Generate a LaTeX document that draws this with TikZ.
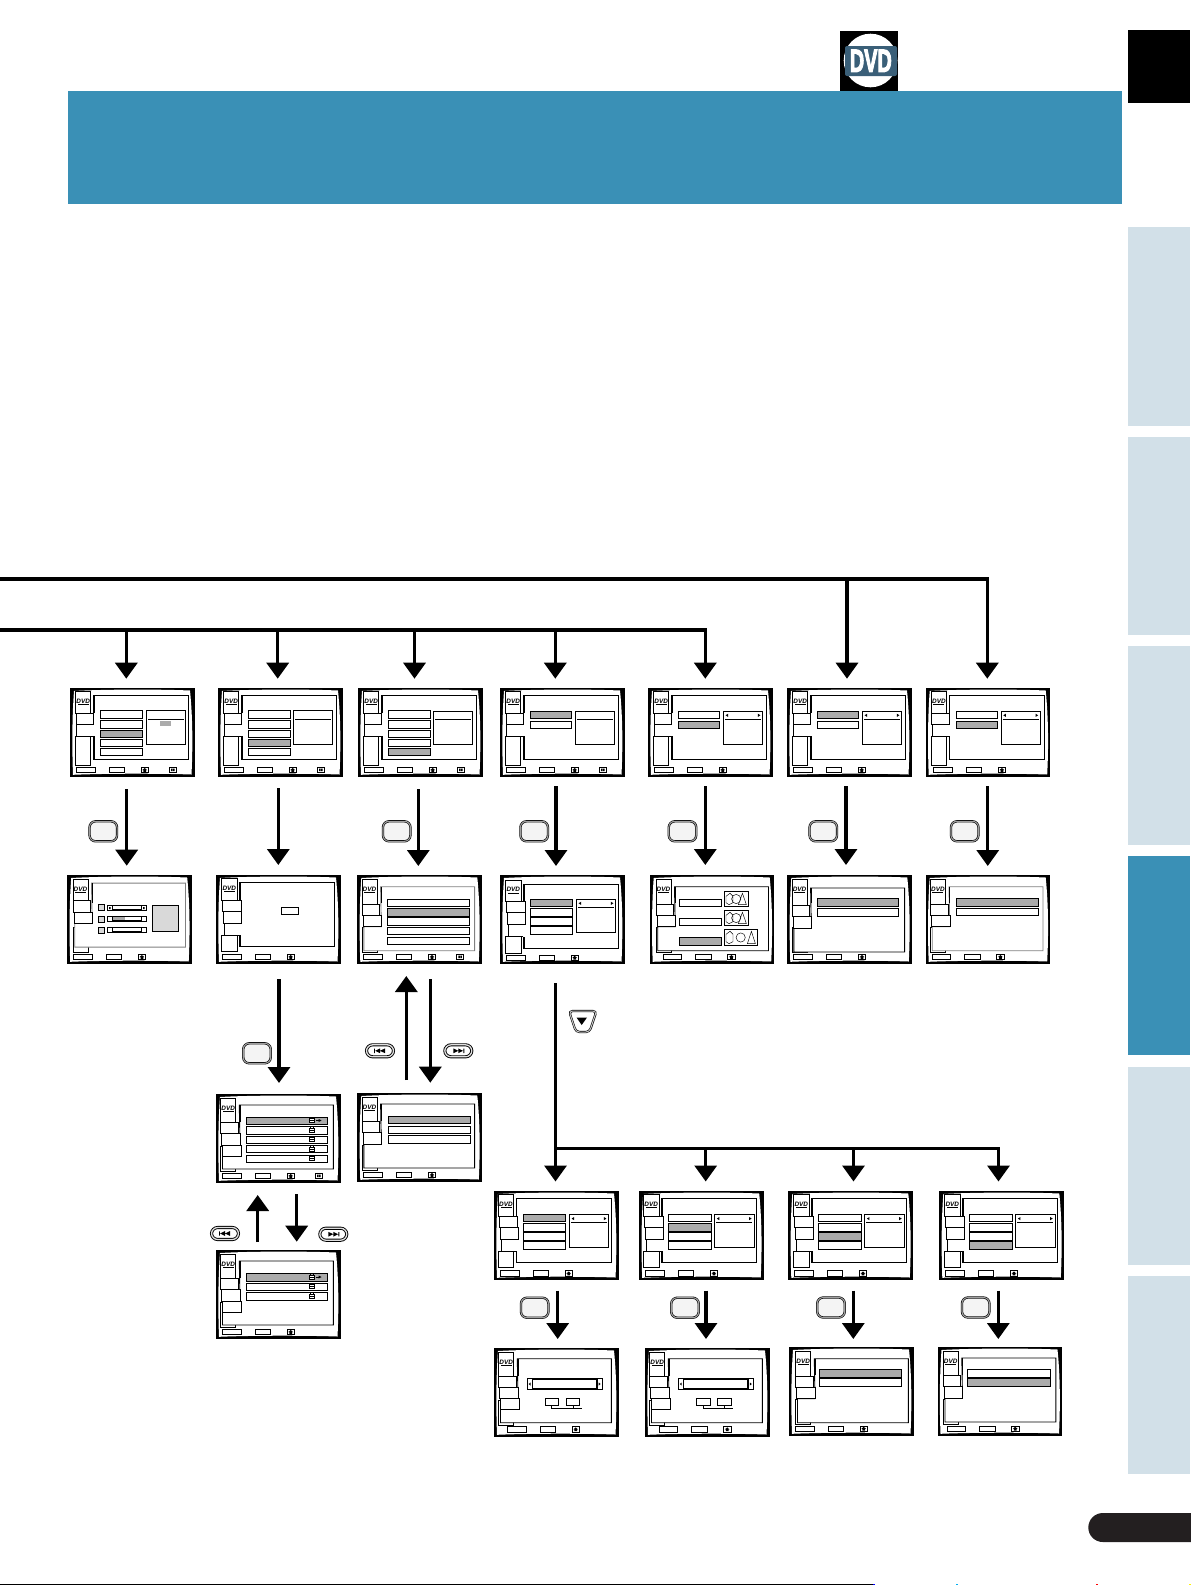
\documentclass[tikz,border=0pt]{standalone}
\usepackage{fontspec}
\setmainfont{Liberation Sans}
\newfontfamily\dvdheavy[BoldFeatures={FakeBold=4}]{Liberation Sans}
\usetikzlibrary{arrows.meta}
\definecolor{hdrblue}{HTML}{3A90B6}
\definecolor{tablight}{HTML}{D2E0E8}
\definecolor{gry}{HTML}{ABABAB}
\definecolor{btnfill}{HTML}{F4F4F4}
\definecolor{logoblue}{HTML}{3A5F78}
\definecolor{pillblack}{HTML}{231F20}
\tikzset{
  screenbox/.style={rectangle,fill=black,inner sep=0pt,outer sep=0pt,minimum width=124.5pt,minimum height=89pt,anchor=north west},
  sl/.style={draw=black,line width=.8pt},
  arr/.style={line width=3.4pt,draw=black,-{Triangle[width=22pt,length=16pt]}},
  gbutton/.style={rectangle,draw=black,line width=.6pt,double=gray!75,double distance=1.1pt,fill=btnfill,rounded corners=6pt,minimum width=27.5pt,minimum height=20pt,inner sep=0pt},
  tbutton/.style={rectangle,draw=black,line width=.9pt,double=gray!25,double distance=1.3pt,fill=white,rounded corners=6.2pt,minimum width=27pt,minimum height=12pt,inner sep=0pt},
  logotext/.style={font=\fontsize{6.4}{6.4}\selectfont\bfseries\itshape,inner sep=0pt,text=black}
}
\newcommand\dvRec[4]{\draw[sl,fill=white] (#1,#2) rectangle (#3,#4);}
% screen: name, x, y, body
\newcommand\dvScr[4]{%
  \def\dvName{#1}%
  \node[screenbox] (#1) at (#2,#3) {};
  \begin{scope}[shift={(#1.north west)}]
    \fill[white] (4,3) .. controls (35,1.2) and (90,1.2) .. (120,2.5)
       .. controls (122.8,30) and (122.8,60) .. (121.5,86.5)
       .. controls (90,85.4) and (35,85.4) .. (3,86.8)
       .. controls (2,60) and (2,30) .. (4,3) -- cycle;
    #4
  \end{scope}}
\newcommand\dvLogo[2]{%
  \node[logotext] (\dvName logo) at (#1,#2) {DVD};
  \fill[black] (#1-5.5,#2+2.8) rectangle (#1+5.5,#2+3.7);}
% type A: two tabs with open notch
\newcommand\LA{%
  \draw[sl] (23.3,7) rectangle (118.7,71);
  \draw[line width=1.5pt] (24,7)--(24,25) (24,48)--(24,71);
  \dvRec{5.7}{48}{20.7}{77}
  \fill[white] (6.3,36) rectangle (25,48);
  \draw[sl] (23.3,48)--(6.3,48)--(6.3,36);
  \dvRec{5.7}{3.3}{20.7}{25}
  \dvRec{6}{25}{23.3}{36}
  \dvLogo{13.2}{13}}
% type B: closed tab, closed tab, open notch
\newcommand\LB[2]{\begin{scope}[shift={(#1,#2)}]
  \draw[sl] (22,7.3) rectangle (117.3,71.3);
  \draw[line width=1.5pt] (22.6,7.3)--(22.6,36) (22.6,60)--(22.6,71.3);
  \dvRec{4.3}{60}{19.7}{76.5}
  \fill[white] (7.3,48) rectangle (24,60);
  \draw[sl] (22,60)--(7.3,60)--(7.3,48);
  \dvRec{4.3}{3.3}{19.7}{25}
  \dvRec{5.3}{25}{23.7}{36}
  \dvRec{6.3}{36}{24.3}{48}
  \dvLogo{12}{13}
  \end{scope}}
% type C: L-shaped panel
\newcommand\LC[3]{\begin{scope}[shift={(#1,0)}]
  \dvRec{4.7}{52}{19.7}{77.7}
  \draw[draw=#3,line width=.9pt,fill=white] (23.3,11.7+#2)--(117.3,11.7+#2)--(117.3,75.7+#2)--(6.5,75.7+#2)--(6.5,51.7+#2)--(24,51.7+#2)--cycle;
  \draw[line width=1.4pt] (24,11.7+#2)--(24,28);
  \dvRec{4.7}{4}{19.7}{29.3+#2}
  \dvRec{4.7}{29.3+#2}{22.3}{40.5+#2}
  \dvRec{5.7}{40.5+#2}{24.3}{51.7+#2}
  \dvLogo{12.2}{14}
  \end{scope}}
\newcommand\dvIcon[2]{\draw[sl,fill=white] (#1,#2) rectangle (#1+7.4,#2+5.4);
  \fill[black] (#1+1.4,#2+2.8)--(#1+3.7,#2+.8)--(#1+6,#2+2.8)--(#1+5.1,#2+2.8)--(#1+5.1,#2+4.6)--(#1+2.3,#2+4.6)--(#1+2.3,#2+2.8)--cycle;}
\newcommand\dvBtn[2]{\begin{scope}[shift={(#1,#2)}]
  \dvRec{6.5}{79.2}{25}{84.6}
  \dvRec{39}{79.2}{54.4}{84.6}
  \dvIcon{71}{79.2}
  \end{scope}}
\newcommand\dvFour[2]{\draw[sl,fill=white] (99+#1,79.2+#2) rectangle (106.4+#1,84.6+#2);
  \fill[black] (101+#1,80.7+#2) rectangle (102.6+#1,83.1+#2) (103+#1,80.7+#2) rectangle (104.6+#1,83.1+#2);}
\newcommand\dvRows[4]{\foreach \ya/\yb [count=\ii] in {#4}{%
  \ifnum\ii=#3\relax\draw[sl,fill=gry] (#1,\ya) rectangle (#2,\yb);%
  \else\draw[sl,fill=white] (#1,\ya) rectangle (#2,\yb);\fi}}
\newcommand\dvSide[6]{%
  \dvRec{#1}{#2}{#3}{#4}
  \draw[sl] (#1+1.7,#5)--(#3-1.7,#5);
  \ifnum#6=1\relax
   \fill[black] (#1+2.3,#2+4.3)--(#1+4.8,#2+2.7)--(#1+4.8,#2+5.9)--cycle
     (#3-2.3,#2+4.3)--(#3-4.8,#2+2.7)--(#3-4.8,#2+5.9)--cycle;
  \fi}
\newcommand\rA[1]{\dvRows{30}{72.7}{#1}{22.7/30.3,32.7/40.3,42/49.3,51/58.3,60/67.3}}
\newcommand\rT[1]{\dvRows{30.3}{71.7}{#1}{23/30.3,33/40.3}}
\newcommand\panW[3]{\begin{scope}[shift={(#1,#2)}]
  \dvRows{29.3}{71.7}{#3}{23.3/30.7,32.7/40.3,41.7/49.3,50.7/58.3}
  \dvSide{75.3}{23.3}{114.7}{56.7}{31.3}{1}
  \draw[line width=1.4pt] (75.3,56.7)--(114.7,56.7);
  \end{scope}}
\newcommand\dvLock[2]{\draw[line width=.6pt,fill=white] (#1-2.6,#2-.8) rectangle (#1+2.6,#2+3);
  \draw[line width=.6pt] (#1-1.3,#2-.8)--(#1-1.3,#2-2.4)--(#1+1.3,#2-2.4)--(#1+1.3,#2-.8);
  \fill[black] (#1-2.6,#2+.6) rectangle (#1+2.6,#2+1.4);}
\newcommand\dvMark[2]{\draw[line width=.8pt] (#1,#2)--(#1+4,#2);
  \fill[black] (#1+3.2,#2-1.5)--(#1+6,#2)--(#1+3.2,#2+1.5)--cycle;}
\newcommand\dvSlid[1]{%
  \dvRec{40}{#1}{79.3}{#1+5.4}
  \draw[line width=1pt,fill=white] (45,#1+.3) rectangle (74.3,#1+4.6);}
\newcommand\dvBig[1]{%
  \dvRec{#1}{30.7}{#1+74.6}{41.3}
  \draw[line width=1.5pt,fill=white] (#1+5,31.2) rectangle (#1+69.6,40.8);
  \fill[black] (#1+1.3,36)--(#1+3.2,34.5)--(#1+3.2,37.5)--cycle
    (#1+73.3,36)--(#1+71.4,34.5)--(#1+71.4,37.5)--cycle;
  \dvRec{#1+18}{50.7}{#1+31.4}{57.3}
  \dvRec{#1+39}{50.7}{#1+52.4}{57.3}
  \draw[sl] (#1+24.4,57.3)--(#1+24.4,60)--(#1+54.4,60) (#1+45.7,57.3)--(#1+45.7,60);}
\newcommand\dvPic[4]{% x1,y1,x2,y2
  \dvRec{#1}{#2}{#3}{#4}
  \draw[line width=.45pt] (#1+2,#2+5)--(#1+6,#2+2)--(#1+9,#2+5)--(#1+9,#4-4)--(#1+5,#4-2)--(#1+2,#4-4)--cycle
    ({(#1+#3)/2},{(#2+#4)/2}) circle (4.6)
    (#3-6,#2+2)--(#3-2,#4-2)--(#3-10,#4-2)--cycle;}
\newcommand\dvPill[4]{%
  \node[tbutton] (#1) at (#2,#3) {};
  \fill[black,shift={(#1.center)},xscale=#4] (-6,-2.2) rectangle (-5.1,2.2)
     (-4.8,0)--(0,-2.4)--(0,2.4)--cycle (0,0)--(5,-2.4)--(5,2.4)--cycle;}
\begin{document}
\begin{tikzpicture}[x=1pt,y=-1pt]
\useasboundingbox (0,0) rectangle (1191,1585);
\fill[white] (0,0) rectangle (1191,1585);
% page furniture
\fill[hdrblue] (68,91) rectangle (1122,204);
\fill[black] (1128,30) rectangle (1190,103);
\fill[tablight] (1128,227) rectangle (1190,426);
\fill[tablight] (1128,437) rectangle (1190,635);
\fill[tablight] (1128,646) rectangle (1190,845);
\fill[hdrblue] (1128,856) rectangle (1190,1055);
\fill[tablight] (1128,1067) rectangle (1190,1265);
\fill[tablight] (1128,1276) rectangle (1190,1474);
% DVD mark
\fill[black] (840,31) rectangle (898,91);
\fill[white] (870.5,60.5) circle (26.8);
\fill[logoblue,rounded corners=2pt] (845,46) rectangle (897,76);
\node[font=\dvdheavy\fontsize{32}{32}\selectfont\bfseries,text=white,inner sep=0pt,xscale=.62] (dvdmark) at (870.8,60.8) {DVD};
% page number pill
\fill[pillblack] (1191,1513) [rounded corners=14.5pt] -- (1088.3,1513) -- (1088.3,1542) [sharp corners] -- (1191,1542) -- cycle;
% bottom trim
\fill[black] (0,1583.6) rectangle (875,1584.6);
\fill[blue] (873,1583.6) rectangle (875,1584.6);
\fill[cyan] (956,1583.6) rectangle (958,1584.6);
\fill[red] (1096,1583.6) rectangle (1098,1584.6);
\fill[yellow] (1189,1583.6) rectangle (1191,1584.6);

% ---------- row 1
\dvScr{SA}{70}{688}{\LA \rA{3} \dvSide{76.3}{22.7}{115.7}{56.3}{31}{0}
  \draw[line width=1.4pt] (115.7,22.7)--(115.7,56.3);
  \fill[gry] (90,32.7) rectangle (101,37.7); \dvBtn{0}{0} \dvFour{0}{0}}
\dvScr{SB}{218}{688}{\LA \rA{4} \dvSide{75.3}{22.7}{114.7}{56.3}{31}{0}
  \draw[line width=1.4pt] (114.7,22.7)--(114.7,56.3);
  \dvBtn{0}{0} \dvFour{0}{0}}
\dvScr{SC}{358}{688}{\LA \rA{5} \dvSide{75.3}{23}{114.7}{56.3}{31}{0} \dvBtn{0}{0} \dvFour{0}{0}}
\dvScr{SD}{500}{688}{\LA \rT{1} \dvSide{75.3}{23}{114.7}{56.3}{31}{0}
  \draw[line width=1.4pt] (114.7,23)--(114.7,56.3);
  \dvBtn{0}{0} \dvFour{0}{0}}
\dvScr{SE}{648}{688}{\LA \rT{2} \dvSide{75.3}{23}{114.7}{56.3}{31}{1} \dvBtn{0}{0}}
\dvScr{SF}{787}{688}{\LA \rT{1} \dvSide{75.3}{23}{114.7}{56.3}{31}{1}
  \draw[line width=1.4pt] (75.3,56.3)--(114.7,56.3);
  \dvBtn{0}{0}}
\dvScr{SG}{925.7}{688}{\LA \rT{2} \dvSide{75.3}{23}{114.7}{56.3}{31}{1} \dvBtn{1.5}{0}}

% ---------- row 2
\dvScr{TA}{67.2}{875}{\LC{1}{-3.6}{gray}
  \foreach \yy in {29.3,41,52.3}{\draw[sl,fill=gray!30] (31,\yy) rectangle (37,\yy+6.2);}
  \dvSlid{30.3} \dvSlid{41.3} \dvSlid{52.3}
  \fill[gry] (46,42.2) rectangle (58,45.2);
  \fill[black] (42,32) rectangle (43.5,34) (76,32) rectangle (77.5,34);
  \draw[sl,fill=gray!30] (85,30.3) rectangle (111.3,56.7);
  \dvBtn{0}{0}}
\dvScr{TB}{216}{875}{\LB{1.3}{0} \dvRec{65.3}{32.3}{82.7}{39} \dvBtn{0}{0}}
\dvScr{TC}{357.3}{875}{\LC{0}{0}{gray}
  \dvRows{30}{112.3}{2}{24/31.7,33.3/41.3,42.7/50.3,52/59.7,62/69.3}
  \dvBtn{0}{0} \dvFour{0}{0}}
\dvScr{TD}{500}{875}{\LB{1.3}{1.7} \panW{1}{.7}{1} \dvBtn{0}{.8}}
\dvScr{TE}{649.7}{875}{\LC{1.5}{0}{black}
  \dvRows{29.3}{71.7}{3}{24.3/31.7,43.3/50.7,62.3/70.7}
  \dvPic{74.3}{16.3}{98.7}{31.7} \dvPic{74.3}{35.3}{98.7}{50.7} \dvPic{74.3}{54.3}{107.7}{70.7}
  \dvBtn{7}{0}}
\dvScr{TF}{787.3}{875}{\LC{0}{1.3}{black}
  \dvRows{30.3}{110.7}{1}{23.3/31.7,33.3/41.7} \dvBtn{0}{0}}
\dvScr{TG}{925.7}{875}{\LC{0}{0}{gray}
  \dvRows{30.3}{112.7}{1}{23.3/31.7,33.3/40.7} \dvBtn{0}{0}}

% ---------- row 3 / 4
\dvScr{UA}{216}{1094}{\LC{0}{-.7}{black} \dvRec{6}{51}{25.7}{62.3}
  \dvRows{30.3}{111.7}{1}{23/30.3,32.3/40.3,42/49.3,51.3/58.7,61/68.3}
  \foreach \yy in {25.5,35,44.5,54,63.5}{\dvLock{95.7}{\yy}}
  \dvMark{99.5}{26.5}
  \dvBtn{0}{0} \dvFour{0}{0}}
\dvScr{UB}{357.3}{1093}{\LC{0}{-.7}{black}
  \dvRows{30.7}{112.7}{1}{23/30.3,33/40.3,42/50.3}
  \dvBtn{0}{0}}
\dvScr{VA}{216}{1250}{\LC{0}{-.7}{black} \dvRec{6}{51}{25.7}{62.3}
  \dvRows{30.3}{111.7}{1}{23.3/31.7,33.3/40.7,42.3/50.3}
  \foreach \yy in {26,35.3,45}{\dvLock{95.7}{\yy}}
  \dvMark{99.5}{27}
  \dvBtn{0}{0}}

% ---------- bottom rows
\dvScr{WA}{494}{1191}{\LB{0}{0} \panW{0}{0}{1} \dvBtn{0}{.5}}
\dvScr{WB}{639.2}{1191}{\LB{0}{0} \panW{0}{0}{2} \dvBtn{0}{.5}}
\dvScr{WC}{788.3}{1191}{\LB{1}{0} \panW{1}{0}{3} \dvBtn{0}{.5}}
\dvScr{WD}{939.3}{1191}{\LB{1}{0} \panW{1}{0}{4} \dvBtn{0}{.5}}
\dvScr{XA}{494}{1348}{\LC{0}{-1}{black} \dvRec{6}{50}{25}{61.7} \dvBig{33.3} \dvBtn{7}{-.6}}
\dvScr{XB}{645}{1348}{\LC{0}{-1}{black} \dvRec{6}{50}{25}{61.7} \dvBig{33.5} \dvBtn{7.5}{-.6}}
\dvScr{XC}{789}{1347}{\LC{2}{0}{black}
  \dvRows{30.3}{112.7}{1}{22.3/30,31.7/39.7} \dvBtn{0}{-.2}}
\dvScr{XD}{937.5}{1347}{\LC{1}{-.7}{black}
  \dvRows{30.3}{112.7}{2}{22.3/30,31.7/39.7} \dvBtn{3}{-.2}}

% ---------- remote buttons
\node[gbutton] (bA) at (103.3,831.3) {};
\node[gbutton] (bC) at (396.7,831.3) {};
\node[gbutton] (bD) at (534.2,831.3) {};
\node[gbutton] (bE) at (682.5,831.3) {};
\node[gbutton] (bF) at (823.3,831.3) {};
\node[gbutton] (bG) at (964.7,831.3) {};
\node[gbutton] (bU) at (257,1053.3) {};
\node[gbutton] (bWA) at (534.7,1307.7) {};
\node[gbutton] (bWB) at (685,1307.7) {};
\node[gbutton] (bWC) at (831,1307.5) {};
\node[gbutton] (bWD) at (975.7,1307.5) {};
\dvPill{pA}{380}{1050.8}{1}
\dvPill{pB}{458.3}{1050.8}{-1}
\dvPill{pC}{225}{1233.5}{1}
\dvPill{pD}{333.3}{1234.2}{-1}
% cursor-down button
\draw[draw=black,line width=.6pt,double=gray!45,double distance=1pt,fill=white,rounded corners=3.5pt]
  (569,1011)--(596.5,1011)--(589.5,1032)--(576,1032)--cycle;
\fill[black] (576.5,1017.5)--(587,1017.5)--(581.7,1025)--cycle;

% ---------- connectors
\coordinate (lineone) at (0,579);
\coordinate (linetwo) at (0,630);
\coordinate (aSA) at (126.3,678.7);
\coordinate (aSB) at (277.7,678.7);
\coordinate (aSC) at (414.5,678.7);
\coordinate (aSD) at (555.3,678.7);
\coordinate (aSE) at (705.3,678.7);
\coordinate (aSF) at (847,678.7);
\coordinate (aSG) at (987.3,678.7);
\draw[arr] (lineone) -| (aSG);
\draw[arr] (aSF |- lineone) -- (aSF);
\draw[arr] (linetwo) -| (aSE);
\draw[arr] (aSA |- linetwo) -- (aSA);
\draw[arr] (aSB |- linetwo) -- (aSB);
\draw[arr] (aSC |- linetwo) -- (aSC);
\draw[arr] (aSD |- linetwo) -- (aSD);

\draw[arr] ([shift={(-5.55,12)}]SA.south) -- ([shift={(-2.75,-9.3)}]TA.north);
\draw[arr] ([shift={(-1.95,11)}]SB.south) -- ([shift={(.05,-10)}]TB.north);
\draw[arr] ([shift={(-1.95,12)}]SC.south) -- ([shift={(-1.25,-9)}]TC.north);
\draw[arr] ([shift={(-6.25,9)}]SD.south) -- ([shift={(-6.25,-9)}]TD.north);
\draw[arr] ([shift={(-4.95,9)}]SE.south) -- ([shift={(-6.65,-10)}]TE.north);
\draw[arr] ([shift={(-3.25,9)}]SF.south) -- ([shift={(-3.55,-10)}]TF.north);
\draw[arr] ([shift={(-.2,9)}]SG.south) -- ([shift={(-.2,-9)}]TG.north);

\draw[arr] ([shift={(.75,15)}]TB.south) -- ([shift={(.75,-11)}]UA.north);
\draw[arr] ([shift={(-13.25,-13)}]UB.north) -- ([shift={(-13.25,12)}]TC.south);
\draw[arr] ([shift={(10.75,15)}]TC.south) -- ([shift={(10.75,-10.3)}]UB.north);
\draw[arr] ([shift={(-20.55,-8)}]VA.north) -- ([shift={(-20.55,12)}]UA.south);
\draw[arr] ([shift={(18.45,11)}]UA.south) -- ([shift={(18.45,-8.3)}]VA.north);

\coordinate (aWA) at (555.5,1181.5);
\coordinate (aWB) at (705.7,1181.5);
\coordinate (aWC) at (853.5,1181.5);
\coordinate (aWD) at (998.5,1181.5);
\coordinate (hub) at (555.5,1148.5);
\draw[arr] ([shift={(-6.75,19)}]TD.south) -- (aWA);
\draw[arr] (hub) -| (aWD);
\draw[arr] (aWB |- hub) -- (aWB);
\draw[arr] (aWC |- hub) -- (aWC);

\draw[arr] ([shift={(1.45,10.7)}]WA.south) -- ([shift={(1.45,-9)}]XA.north);
\draw[arr] ([shift={(4.55,10.7)}]WB.south) -- ([shift={(-1.25,-9)}]XB.north);
\draw[arr] ([shift={(2.75,10.7)}]WC.south) -- ([shift={(2.05,-8)}]XC.north);
\draw[arr] ([shift={(-3.25,10.7)}]WD.south) -- ([shift={(-1.45,-8)}]XD.north);
\end{tikzpicture}
\end{document}
